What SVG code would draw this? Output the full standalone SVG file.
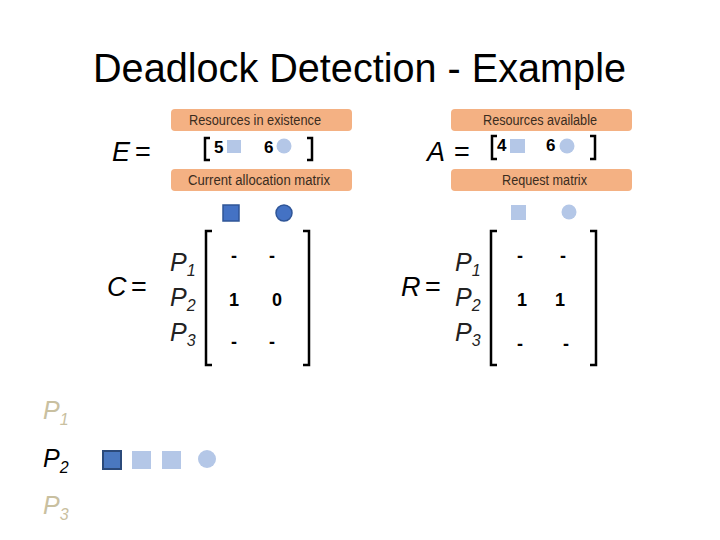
<svg xmlns="http://www.w3.org/2000/svg" width="720" height="540" viewBox="0 0 720 540">
<style>
.title{font-family:"Liberation Sans",Arial,sans-serif;font-size:40px;fill:#000}
.bar{fill:#f4b183}
.bart{font-family:"Liberation Sans Narrow","Liberation Sans",Arial,sans-serif;font-size:14px;fill:#3a2c1e;text-anchor:middle}
.lhs{font-family:"Liberation Sans",Arial,sans-serif;font-style:italic;font-size:27px;fill:#000}
.eq{font-family:"Liberation Sans",Arial,sans-serif;font-size:27px;fill:#000}
.p{font-family:"Liberation Sans",Arial,sans-serif;font-style:italic;font-size:25px;fill:#222}
.sub{font-size:16px}
.num{font-family:"Liberation Sans",Arial,sans-serif;font-weight:bold;font-size:17px;fill:#000}
.cell{font-family:"Liberation Sans",Arial,sans-serif;font-weight:bold;font-size:18px;fill:#000;text-anchor:middle}
.brk{fill:none;stroke:#000;stroke-width:2.5}
.lsq{fill:#b4c7e7}
.dsq{fill:#4472c4;stroke:#2f5597;stroke-width:1.5}
.tan{fill:#c9c0a0}
</style>
<text class="title" x="93" y="82" textLength="533" lengthAdjust="spacingAndGlyphs">Deadlock Detection - Example</text>

<g id="existence">
<rect class="bar" x="171" y="109" width="181" height="22" rx="4"/>
<text class="bart" x="255" y="125" textLength="132" lengthAdjust="spacingAndGlyphs">Resources in existence</text>
<text class="lhs" x="112" y="161">E</text><text class="eq" x="135" y="161">=</text>
<path class="brk" d="M210,138 H205 V160 H210"/>
<text class="num" x="214" y="153">5</text>
<rect class="lsq" x="227" y="140" width="14" height="13"/>
<text class="num" x="264" y="153">6</text>
<circle class="lsq" cx="284" cy="146" r="7.5"/>
<path class="brk" d="M307,138 H312 V160 H307"/>
</g>

<g id="available">
<rect class="bar" x="451" y="109" width="181" height="22" rx="4"/>
<text class="bart" x="540" y="125" textLength="114" lengthAdjust="spacingAndGlyphs">Resources available</text>
<text class="lhs" x="427" y="161">A</text><text class="eq" x="454" y="161">=</text>
<path class="brk" d="M497,136 H492 V159 H497"/>
<text class="num" x="497" y="151">4</text>
<rect class="lsq" x="510" y="139" width="15" height="14"/>
<text class="num" x="546" y="151">6</text>
<circle class="lsq" cx="567" cy="146" r="7.5"/>
<path class="brk" d="M590,136 H595 V159 H590"/>
</g>

<g id="allocation">
<rect class="bar" x="171" y="169" width="181" height="22" rx="4"/>
<text class="bart" x="259" y="185" textLength="142" lengthAdjust="spacingAndGlyphs">Current allocation matrix</text>
<rect class="dsq" x="223" y="205" width="16" height="16"/>
<circle class="dsq" cx="284" cy="213" r="8"/>
<text class="lhs" x="107" y="296">C</text><text class="eq" x="131" y="296">=</text>
<text class="p" x="170" y="271">P<tspan class="sub" dy="5">1</tspan></text>
<text class="p" x="170" y="306">P<tspan class="sub" dy="5">2</tspan></text>
<text class="p" x="170" y="341">P<tspan class="sub" dy="5">3</tspan></text>
<path class="brk" d="M212,231 H206 V365 H212"/>
<path class="brk" d="M303,231 H309 V365 H303"/>
<text class="cell" x="234" y="262">-</text><text class="cell" x="272" y="262">-</text>
<text class="cell" x="234" y="306">1</text><text class="cell" x="277" y="306">0</text>
<text class="cell" x="234" y="348">-</text><text class="cell" x="272" y="348">-</text>
</g>

<g id="request">
<rect class="bar" x="451" y="169" width="181" height="22" rx="4"/>
<text class="bart" x="544.5" y="185" textLength="85" lengthAdjust="spacingAndGlyphs">Request matrix</text>
<rect class="lsq" x="511" y="205" width="15" height="15"/>
<circle class="lsq" cx="569" cy="212" r="7.5"/>
<text class="lhs" x="401" y="296">R</text><text class="eq" x="425" y="296">=</text>
<text class="p" x="455" y="271">P<tspan class="sub" dy="5">1</tspan></text>
<text class="p" x="455" y="306">P<tspan class="sub" dy="5">2</tspan></text>
<text class="p" x="455" y="341">P<tspan class="sub" dy="5">3</tspan></text>
<path class="brk" d="M497,231 H491 V365 H497"/>
<path class="brk" d="M590,231 H596 V365 H590"/>
<text class="cell" x="520" y="262">-</text><text class="cell" x="563" y="262">-</text>
<text class="cell" x="522" y="306">1</text><text class="cell" x="560" y="306">1</text>
<text class="cell" x="520" y="350">-</text><text class="cell" x="566" y="350">-</text>
</g>

<g id="processes">
<text class="p tan" x="43" y="419">P<tspan class="sub" dy="6">1</tspan></text>
<text class="p" x="43" y="467" style="fill:#000">P<tspan class="sub" dy="6">2</tspan></text>
<text class="p tan" x="43" y="514">P<tspan class="sub" dy="6">3</tspan></text>
<rect x="103" y="451" width="18" height="18" style="fill:#4a78c0;stroke:#2b4a7a;stroke-width:2"/>
<rect class="lsq" x="132" y="451" width="19" height="18"/>
<rect class="lsq" x="162" y="451" width="19" height="18"/>
<circle class="lsq" cx="207" cy="459" r="9"/>
</g>
</svg>
